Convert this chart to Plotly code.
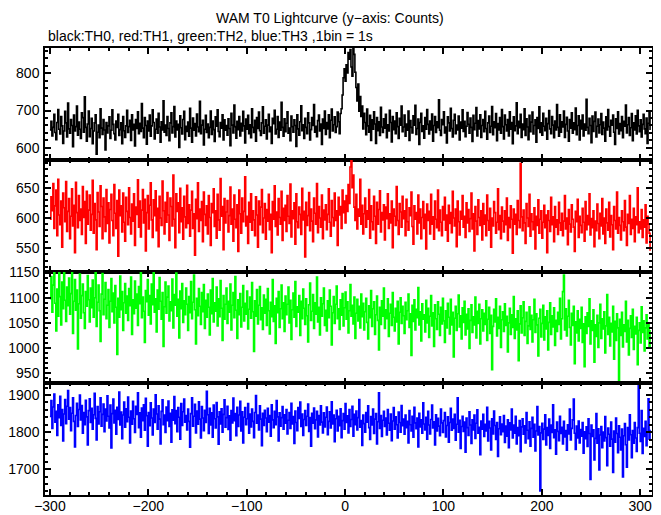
import plotly.graph_objects as go
from plotly.subplots import make_subplots

TITLE = "WAM T0 Lightcurve (y\u2212axis: Counts)"
SUBTITLE = "black:TH0, red:TH1, green:TH2, blue:TH3 ,1bin = 1s"
BIN_START = -300
BIN_WIDTH = 1

th0 = [
648, 671, 632, 655, 690, 641, 622, 668, 703, 650, 637, 684, 659, 612, 645, 698, 667, 629, 720, 651,
639, 676, 660, 603, 688, 645, 657, 712, 634, 669, 650, 625, 694, 681, 642, 737, 655, 618, 664, 699,
630, 652, 679, 611, 645, 667, 689, 583, 642, 661, 627, 705, 653, 636, 676, 648, 594, 668, 640, 659,
683, 625, 647, 702, 663, 638, 621, 672, 655, 690, 633, 649, 667, 611, 684, 646, 628, 659, 701, 641,
657, 674, 620, 689, 648, 663, 605, 676, 652, 697, 638, 666, 644, 719, 653, 627, 681, 660, 610, 672,
645, 688, 631, 659, 702, 668, 624, 650, 677, 639, 693, 656, 615, 670, 648, 726, 642, 661, 633, 684,
652, 619, 667, 694, 640, 657, 711, 629, 672, 648, 663, 601, 686, 654, 637, 676, 698, 622, 658, 644,
669, 631, 706, 653, 615, 680, 647, 665, 632, 691, 656, 643, 725, 638, 661, 674, 608, 650, 687, 641,
664, 627, 655, 699, 636, 672, 649, 617, 683, 658, 702, 644, 630, 668, 653, 689, 621, 675, 647, 660,
634, 678, 652, 606, 693, 661, 640, 715, 657, 626, 671, 649, 684, 632, 666, 645, 698, 659, 613, 677,
650, 687, 638, 662, 627, 705, 655, 641, 674, 618, 681, 652, 696, 646, 633, 667, 710, 639, 658, 675,
624, 661, 690, 643, 656, 612, 679, 665, 701, 637, 650, 684, 628, 669, 647, 722, 655, 631, 678, 643,
666, 697, 639, 653, 619, 685, 657, 642, 675, 660, 604, 689, 651, 634, 670, 713, 646, 662, 625, 679,
655, 638, 694, 667, 621, 649, 681, 660, 716, 642, 658, 630, 673, 688, 645, 664, 609, 677, 652, 699,
636, 668, 651, 689, 627, 674, 704, 645, 662, 683, 641, 657, 696, 670, 638, 692, 705, 742, 788, 812,
779, 823, 801, 856, 838, 864, 817, 792, 872, 851, 803, 762, 726, 771, 698, 738, 684, 712, 651, 693,
668, 635, 704, 659, 642, 687, 620, 675, 650, 697, 664, 612, 681, 646, 670, 633, 709, 656, 641, 678,
653, 690, 627, 662, 645, 701, 668, 616, 684, 649, 672, 638, 694, 657, 625, 679, 661, 712, 643, 656,
688, 631, 664, 647, 699, 620, 673, 655, 640, 686, 661, 714, 636, 652, 677, 609, 668, 693, 644, 659,
626, 681, 650, 703, 663, 637, 672, 648, 691, 618, 660, 684, 641, 670, 654, 729, 647, 633, 676, 662,
697, 640, 656, 613, 683, 667, 645, 706, 652, 629, 674, 690, 638, 661, 648, 685, 621, 669, 653, 702,
644, 671, 630, 658, 695, 663, 639, 680, 655, 617, 687, 649, 666, 708, 632, 673, 651, 689, 628, 660,
676, 643, 698, 652, 623, 667, 685, 641, 658, 711, 635, 670, 654, 692, 619, 665, 648, 681, 639, 703,
657, 624, 688, 662, 645, 676, 632, 697, 650, 668, 611, 683, 646, 659, 721, 638, 671, 654, 690, 628,
664, 649, 705, 633, 678, 656, 622, 687, 643, 669, 696, 637, 660, 675, 615, 681, 652, 710, 641, 667,
634, 693, 658, 646, 679, 623, 665, 700, 651, 638, 684, 661, 627, 672, 648, 716, 655, 631, 689, 642,
670, 656, 699, 628, 663, 682, 645, 618, 676, 653, 694, 639, 667, 649, 707, 635, 660, 686, 621, 674,
651, 688, 632, 664, 647, 730, 655, 638, 679, 660, 614, 685, 644, 671, 696, 629, 658, 677, 640, 662,
692, 636, 669, 653, 618, 683, 648, 703, 657, 631, 674, 661, 688, 642, 609, 678, 652, 697, 637, 665,
646, 684, 627, 671, 658, 715, 640, 662, 681, 633, 654, 692, 619, 667, 648, 686, 637, 701, 659, 643,
675, 629, 663, 690, 651, 638, 680, 612, 666, 694, 648,
]

th1 = [
598, 635, 612, 657, 583, 620, 646, 571, 664, 605, 589, 628, 552, 641, 617, 594, 660, 578, 611, 632,
566, 603, 648, 587, 621, 543, 659, 609, 584, 637, 596, 615, 573, 652, 601, 627, 558, 644, 590, 613,
638, 580, 606, 662, 575, 624, 597, 548, 642, 610, 586, 653, 619, 566, 633, 602, 578, 647, 591, 625,
559, 614, 639, 596, 571, 655, 608, 583, 629, 537, 646, 604, 620, 577, 641, 593, 562, 634, 611, 589,
650, 601, 574, 623, 595, 640, 555, 618, 606, 663, 585, 628, 569, 613, 647, 592, 631, 546, 609, 637,
582, 621, 658, 597, 568, 630, 604, 645, 579, 616, 553, 636, 600, 588, 661, 612, 574, 626, 593, 642,
605, 563, 633, 619, 587, 671, 598, 551, 640, 611, 625, 576, 649, 594, 617, 565, 636, 602, 584, 654,
591, 622, 570, 613, 644, 583, 607, 539, 631, 599, 658, 578, 615, 596, 627, 561, 643, 606, 588, 620,
574, 637, 601, 555, 624, 609, 648, 586, 612, 567, 639, 597, 580, 665, 603, 619, 548, 632, 592, 610,
629, 577, 604, 651, 590, 615, 562, 638, 598, 584, 622, 545, 646, 607, 575, 633, 594, 611, 668, 587,
603, 558, 626, 593, 640, 580, 612, 597, 571, 635, 605, 552, 628, 589, 618, 647, 576, 600, 624, 565,
614, 595, 639, 581, 606, 543, 627, 598, 653, 586, 610, 572, 632, 601, 590, 644, 563, 616, 596, 621,
578, 637, 603, 591, 656, 569, 612, 599, 625, 557, 640, 594, 584, 618, 606, 573, 649, 597, 611, 536,
626, 588, 604, 642, 579, 615, 595, 561, 633, 608, 590, 657, 576, 619, 600, 585, 638, 566, 613, 597,
622, 581, 606, 648, 593, 570, 629, 601, 587, 641, 596, 612, 555, 634, 605, 619, 583, 646, 609, 628,
592, 637, 611, 655, 624, 684, 702, 650, 671, 618, 596, 639, 582, 615, 603, 664, 590, 621, 574, 607,
633, 585, 612, 598, 647, 567, 620, 594, 581, 636, 603, 558, 626, 590, 614, 645, 577, 609, 597, 622,
564, 618, 599, 640, 583, 607, 592, 628, 551, 615, 603, 588, 652, 596, 573, 624, 610, 585, 636, 599,
612, 571, 631, 594, 580, 617, 604, 643, 586, 557, 620, 598, 609, 574, 638, 592, 615, 566, 601, 627,
583, 606, 549, 623, 596, 611, 574, 639, 590, 602, 565, 628, 598, 584, 646, 579, 613, 593, 571, 619,
597, 634, 580, 605, 562, 621, 591, 609, 576, 644, 600, 587, 615, 553, 628, 594, 572, 611, 598, 637,
585, 603, 568, 625, 592, 614, 578, 599, 641, 582, 607, 546, 619, 595, 573, 630, 601, 588, 612, 564,
624, 590, 605, 571, 638, 596, 580, 616, 552, 600, 587, 627, 609, 575, 593, 648, 581, 604, 566, 618,
595, 577, 612, 589, 633, 563, 601, 584, 620, 598, 542, 615, 590, 606, 573, 629, 596, 584, 690, 602,
579, 613, 592, 558, 624, 600, 586, 639, 570, 607, 594, 581, 617, 549, 603, 588, 630, 575, 598, 612,
567, 593, 621, 584, 605, 543, 612, 596, 578, 634, 589, 602, 561, 619, 585, 597, 573, 626, 592, 580,
608, 571, 595, 637, 582, 600, 556, 614, 590, 577, 622, 598, 585, 545, 611, 594, 631, 568, 603, 588,
576, 616, 593, 562, 627, 581, 604, 589, 640, 572, 599, 584, 612, 553, 595, 579, 623, 591, 566, 608,
587, 632, 574, 600, 558, 615, 592, 580, 626, 569, 604, 589, 548, 619, 596, 582, 643, 575, 601, 588,
564, 612, 594, 579, 629, 585, 555, 606, 591, 637, 573, 598, 583, 616, 561, 602, 589, 650, 576, 594,
582, 614, 568, 597, 585, 622, 559, 603, 590, 575, 546,
]

th2 = [
1098, 1142, 1071, 1125, 1156, 1089, 1034, 1117, 1063, 1150, 1102, 1046, 1131, 1078, 1160, 1095, 1053, 1121, 1084, 1139,
1067, 1108, 1152, 1029, 1093, 1136, 1075, 1115, 998, 1088, 1147, 1059, 1104, 1127, 1070, 1039, 1112, 1083, 1144, 1096,
1052, 1119, 1080, 1135, 1061, 1100, 1155, 1043, 1091, 1125, 1074, 1013, 1107, 1148, 1066, 1097, 1130, 1058, 1085, 1116,
1041, 1093, 1138, 1072, 1109, 1050, 1124, 1081, 987, 1099, 1061, 1143, 1076, 1112, 1035, 1090, 1128, 1069, 1103, 1055,
1118, 1084, 1141, 1027, 1096, 1068, 1133, 1079, 1107, 1045, 1122, 1088, 1153, 1060, 1101, 1073, 1011, 1114, 1092, 1136,
1065, 1104, 1048, 1127, 1086, 1157, 1071, 1098, 1032, 1115, 1077, 1140, 1093, 1057, 1110, 1003, 1082, 1131, 1069, 1101,
1123, 1054, 1092, 1074, 1137, 1040, 1106, 1085, 1149, 1063, 1097, 1020, 1113, 1078, 1128, 1051, 1094, 1066, 1119, 1087,
1035, 1102, 1070, 1132, 1058, 1091, 1145, 1076, 1008, 1099, 1064, 1118, 1083, 1047, 1110, 1072, 1126, 1039, 1095, 1061,
1107, 1081, 1026, 1115, 1068, 1138, 1052, 1090, 1073, 1121, 1044, 1098, 1062, 1134, 1079, 1015, 1104, 1057, 1087, 1119,
1049, 1093, 1071, 1127, 1036, 1085, 1110, 1060, 1142, 1075, 1019, 1096, 1066, 1108, 1042, 1081, 1124, 1054, 1089, 1067,
1113, 1038, 1077, 1101, 1059, 1130, 1072, 993, 1094, 1063, 1116, 1048, 1085, 1122, 1056, 1080, 1037, 1105, 1069, 1097,
1045, 1118, 1074, 1028, 1091, 1062, 1136, 1053, 1084, 1009, 1099, 1070, 1112, 1041, 1078, 1125, 1058, 1090, 1033, 1103,
1066, 1087, 1121, 1050, 1095, 1017, 1076, 1109, 1061, 1132, 1043, 1082, 1071, 1104, 1025, 1093, 1058, 1117, 1079, 1047,
1098, 1064, 1012, 1086, 1129, 1055, 1073, 1106, 1039, 1090, 1067, 1141, 1052, 1081, 1026, 1100, 1063, 1088, 1119, 1045,
1075, 1034, 1094, 1060, 1115, 1083, 1006, 1070, 1102, 1049, 1087, 1123, 1058, 1078, 1037, 1096, 1065, 1108, 1044, 1080,
1111, 1057, 1092, 1030, 1074, 1126, 1063, 1085, 1048, 1101, 1019, 1069, 1097, 1054, 1083, 1040, 1107, 1062, 1089, 1036,
1072, 1099, 1051, 1018, 1084, 1060, 1114, 1043, 1078, 1092, 1027, 1066, 1103, 1055, 996, 1081, 1047, 1094, 1063, 1119,
1039, 1076, 1058, 1098, 1023, 1069, 1087, 1045, 1110, 1061, 1034, 1079, 1052, 1093, 1008, 1071, 1100, 1049, 1083, 1064,
1029, 1091, 1056, 1074, 1107, 1041, 1068, 985, 1085, 1053, 1096, 1036, 1077, 1060, 1120, 1046, 1072, 1014, 1088, 1057,
1066, 1032, 1095, 1050, 1079, 1021, 1063, 1104, 1044, 1070, 1003, 1086, 1058, 1037, 1092, 1067, 1025, 1081, 1048, 1099,
1054, 1011, 1074, 1040, 1089, 1061, 1028, 1097, 1046, 1071, 982, 1059, 1083, 1035, 1068, 1105, 1042, 1064, 1018, 1080,
1051, 1093, 1026, 1067, 1038, 1078, 999, 1055, 1086, 1031, 1062, 1046, 1101, 1020, 1073, 1049, 1087, 1008, 1058, 1076,
1034, 1069, 1047, 1094, 1015, 1057, 1081, 1029, 1065, 957, 1043, 1077, 1052, 1098, 1024, 1061, 1039, 1083, 1001, 1056,
1072, 1033, 1088, 1045, 1063, 992, 1050, 1079, 1027, 1066, 1041, 1102, 1019, 1058, 1036, 1074, 975, 1048, 1084, 1030,
1060, 1092, 1025, 1053, 1071, 1009, 1044, 1082, 1037, 1065, 1012, 1056, 1097, 1031, 1068, 1046, 984, 1059, 1077, 1022,
1049, 1085, 1016, 1062, 1038, 1074, 996, 1051, 1090, 1027, 1064, 1042, 1080, 1005, 1055, 1033, 1071, 1047, 1099, 1018,
1058, 1112, 1145, 1036, 1078, 1024, 1063, 1095, 1041, 1006, 1069, 1045, 1083, 969, 1052, 1030, 1074, 1014, 1057, 1039,
1081, 1011, 1048, 963, 1062, 1029, 1070, 1043, 1098, 1008, 1054, 1035, 1076, 972, 1046, 1023, 1065, 1001, 1050, 1087,
1019, 1058, 1038, 1072, 990, 1044, 1106, 1027, 1061, 1004, 1049, 1032, 1083, 978, 1053, 1015, 1068, 1040, 936, 1057,
1025, 1071, 1002, 1046, 1033, 1093, 1012, 1055, 986, 1039, 1064, 1021, 1077, 997, 1043, 1028, 1061, 967, 1035, 1050,
1010, 1082, 1031, 1054, 994, 1040, 1066, 1018, 1047, 1003, 1036,
]

th3 = [
1842, 1885, 1810, 1868, 1903, 1827, 1856, 1791, 1874, 1839, 1897, 1818, 1861, 1776, 1849, 1888, 1823, 1870, 1912, 1835,
1866, 1804, 1851, 1893, 1829, 1760, 1845, 1878, 1815, 1861, 1900, 1833, 1872, 1797, 1853, 1820, 1886, 1841, 1765, 1858,
1890, 1826, 1864, 1808, 1847, 1905, 1837, 1779, 1869, 1822, 1855, 1893, 1816, 1848, 1876, 1801, 1862, 1830, 1898, 1843,
1811, 1873, 1757, 1850, 1889, 1825, 1859, 1794, 1867, 1834, 1908, 1819, 1854, 1782, 1846, 1881, 1813, 1863, 1828, 1895,
1840, 1771, 1857, 1821, 1883, 1836, 1799, 1870, 1848, 1906, 1812, 1852, 1786, 1865, 1831, 1874, 1805, 1891, 1844, 1762,
1853, 1817, 1879, 1838, 1792, 1862, 1826, 1901, 1849, 1808, 1871, 1835, 1768, 1856, 1887, 1820, 1846, 1799, 1868, 1831,
1884, 1815, 1851, 1773, 1860, 1832, 1896, 1823, 1858, 1801, 1866, 1840, 1781, 1877, 1818, 1855, 1889, 1827, 1845, 1806,
1862, 1829, 1759, 1850, 1893, 1816, 1843, 1875, 1798, 1857, 1821, 1882, 1835, 1784, 1869, 1838, 1804, 1859, 1826, 1910,
1847, 1796, 1864, 1819, 1852, 1786, 1873, 1836, 1811, 1880, 1841, 1767, 1855, 1822, 1863, 1800, 1848, 1887, 1813, 1839,
1870, 1807, 1844, 1778, 1858, 1825, 1892, 1831, 1850, 1790, 1867, 1815, 1846, 1883, 1803, 1855, 1771, 1840, 1866, 1820,
1836, 1877, 1797, 1849, 1814, 1862, 1829, 1785, 1853, 1899, 1824, 1846, 1806, 1871, 1835, 1763, 1851, 1818, 1859, 1838,
1801, 1864, 1827, 1845, 1789, 1874, 1833, 1812, 1856, 1820, 1885, 1841, 1776, 1852, 1816, 1839, 1869, 1808, 1847, 1824,
1861, 1795, 1832, 1853, 1810, 1878, 1822, 1842, 1769, 1857, 1826, 1804, 1866, 1837, 1881, 1815, 1849, 1791, 1834, 1858,
1818, 1843, 1876, 1802, 1839, 1762, 1851, 1824, 1865, 1809, 1833, 1856, 1787, 1845, 1819, 1871, 1827, 1798, 1852, 1814,
1840, 1868, 1793, 1829, 1855, 1811, 1882, 1822, 1846, 1774, 1836, 1859, 1803, 1843, 1817, 1863, 1785, 1831, 1850, 1808,
1877, 1826, 1844, 1798, 1861, 1815, 1834, 1870, 1789, 1848, 1820, 1857, 1806, 1839, 1888, 1813, 1831, 1764, 1846, 1823,
1800, 1853, 1827, 1871, 1812, 1780, 1842, 1819, 1862, 1796, 1835, 1850, 1768, 1828, 1906, 1810, 1845, 1788, 1832, 1856,
1815, 1838, 1792, 1861, 1824, 1805, 1849, 1777, 1830, 1866, 1808, 1841, 1820, 1784, 1854, 1826, 1800, 1872, 1817, 1835,
1794, 1846, 1812, 1829, 1771, 1858, 1820, 1803, 1843, 1786, 1867, 1825, 1809, 1838, 1760, 1851, 1814, 1833, 1797, 1879,
1822, 1806, 1840, 1781, 1856, 1819, 1795, 1834, 1873, 1811, 1828, 1765, 1847, 1803, 1837, 1816, 1790, 1862, 1825, 1799,
1831, 1853, 1787, 1818, 1841, 1773, 1826, 1864, 1805, 1835, 1810, 1848, 1778, 1821, 1893, 1800, 1832, 1756, 1815, 1843,
1802, 1827, 1746, 1838, 1812, 1791, 1855, 1819, 1769, 1833, 1806, 1846, 1783, 1824, 1860, 1797, 1813, 1739, 1830, 1808,
1848, 1788, 1821, 1803, 1867, 1776, 1829, 1811, 1752, 1836, 1795, 1857, 1818, 1780, 1826, 1734, 1809, 1841, 1793, 1822,
1801, 1845, 1772, 1816, 1789, 1833, 1758, 1825, 1806, 1862, 1784, 1819, 1797, 1843, 1768, 1812, 1790, 1831, 1747, 1814,
1836, 1794, 1817, 1771, 1853, 1805, 1782, 1828, 1762, 1810, 1840, 1786, 1821, 1749, 1803, 1869, 1792, 1815, 1641, 1798,
1824, 1780, 1808, 1847, 1765, 1812, 1791, 1835, 1756, 1819, 1799, 1874, 1785, 1806, 1740, 1827, 1802, 1777, 1843, 1796,
1813, 1768, 1829, 1787, 1804, 1751, 1820, 1795, 1862, 1779, 1810, 1833, 1889, 1797, 1753, 1816, 1784, 1830, 1771, 1807,
1789, 1826, 1743, 1801, 1782, 1814, 1761, 1836, 1796, 1672, 1819, 1788, 1806, 1725, 1783, 1850, 1770, 1809, 1698, 1792,
1815, 1758, 1800, 1776, 1842, 1785, 1709, 1811, 1794, 1762, 1827, 1781, 1691, 1803, 1773, 1838, 1796, 1744, 1817, 1786,
1752, 1808, 1679, 1790, 1823, 1766, 1705, 1812, 1779, 1847, 1793, 1731, 1804, 1770, 1826, 1784, 1748, 1812, 1925, 1797,
1775, 1858, 1742, 1810, 1788, 1829, 1763, 1801, 1890, 1781, 1806,
]

series = [th0, th1, th2, th3]
colors = ["#000000", "#ff0000", "#00ff00", "#0000ff"]
y_ranges = [[568, 868], [512, 696], [930, 1152], [1630, 1932]]
y_dticks = [100, 50, 50, 100]
y_minor = [20, 10, 10, 20]
x_range = [-305, 312]

fig = make_subplots(rows=4, cols=1, shared_xaxes=True, vertical_spacing=0)

for i, (vals, col) in enumerate(zip(series, colors)):
    xs = [BIN_START + k * BIN_WIDTH for k in range(len(vals))]
    fig.add_trace(
        go.Scatter(x=xs, y=vals, mode="lines", line=dict(color=col, width=1.6, shape="hv"),
                   showlegend=False, hoverinfo="skip"),
        row=i + 1, col=1,
    )

font_family = "Liberation Sans, Arial, Helvetica, sans-serif"

for i in range(4):
    fig.update_yaxes(
        range=y_ranges[i], dtick=y_dticks[i], tick0=0, automargin=False,
        ticks="inside", ticklen=6, tickwidth=1.5, tickcolor="black",
        minor=dict(ticks="inside", ticklen=3, dtick=y_minor[i], tick0=0, tickcolor="black", tickwidth=1.5),
        showline=True, linecolor="black", linewidth=1.5, mirror="allticks",
        showgrid=False, zeroline=False, ticklabelstandoff=1,
        tickfont=dict(family=font_family, size=14, color="black"),
        row=i + 1, col=1,
    )
    fig.update_xaxes(
        range=x_range, dtick=100, tick0=0, automargin=False,
        ticks="inside", ticklen=6, tickwidth=1.5, tickcolor="black",
        minor=dict(ticks="inside", ticklen=3, dtick=20, tick0=0, tickcolor="black", tickwidth=1.5),
        showline=True, linecolor="black", linewidth=1.5, mirror="allticks",
        showgrid=False, zeroline=False, ticklabelstandoff=-3,
        showticklabels=(i == 3),
        tickfont=dict(family=font_family, size=14, color="black"),
        row=i + 1, col=1,
    )

# the page body has an 8px default margin, so the figure is sized/offset to compensate
FIG_W, FIG_H = 653, 507
M_L, M_R, M_T, M_B = 37, 9, 40, 20
fig.add_annotation(text=TITLE, xref="paper", yref="paper", x=0.47, y=1.0,
                   yshift=30, xanchor="center", yanchor="middle", showarrow=False,
                   font=dict(family=font_family, size=14, color="black"))
fig.add_annotation(text=SUBTITLE, xref="paper", yref="paper",
                   x=1 / (FIG_W - M_L - M_R),
                   y=1.0, yshift=12, xanchor="left", yanchor="middle",
                   showarrow=False, font=dict(family=font_family, size=14, color="black"))

fig.update_layout(
    width=FIG_W, height=FIG_H,
    margin=dict(l=M_L, r=M_R, t=M_T, b=M_B, autoexpand=False),
    paper_bgcolor="white", plot_bgcolor="white",
    font=dict(family=font_family, size=14, color="black"),
)

fig.write_html("out.html")
